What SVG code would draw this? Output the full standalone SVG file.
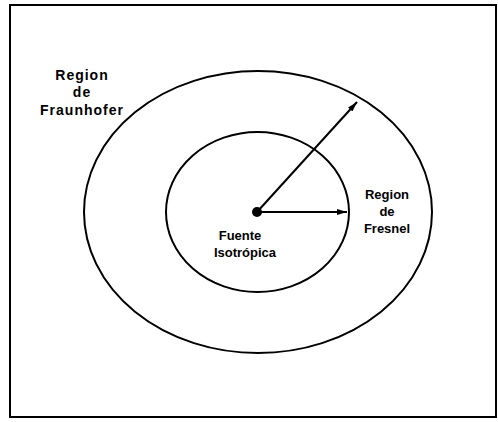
<svg xmlns="http://www.w3.org/2000/svg" width="498" height="422" viewBox="0 0 498 422">
<style>
.ln{fill:none;stroke:#000;stroke-width:2}
.t{font-family:"Liberation Sans",Arial,sans-serif;font-size:14px;font-weight:bold;letter-spacing:1px;text-anchor:middle;fill:#000}
.s{font-family:"Liberation Sans",Arial,sans-serif;font-size:13px;font-weight:bold;text-anchor:middle;fill:#000}
</style>
<defs>
<marker id="ah" viewBox="0 0 10 6" refX="10" refY="3" markerWidth="10" markerHeight="6" markerUnits="userSpaceOnUse" orient="auto">
<path d="M0,0 L10,3 L0,6 Z" fill="#000"/>
</marker>
</defs>
<rect x="0" y="0" width="498" height="422" fill="#fff"/>
<rect x="10" y="5" width="486" height="412" class="ln"/>
<g id="outer">
<ellipse cx="258" cy="212" rx="174" ry="141" class="ln"/>
</g>
<g id="inner">
<ellipse cx="257.5" cy="212" rx="91.5" ry="80" class="ln"/>
</g>
<g id="source">
<circle cx="257" cy="212" r="5" fill="#000"/>
</g>
<g id="connectors">
<line x1="257" y1="212" x2="357" y2="102" class="ln" marker-end="url(#ah)"/>
<line x1="257" y1="212" x2="347" y2="212" class="ln" marker-end="url(#ah)"/>
</g>
<g id="label-fraunhofer">
<text class="t" x="82" y="80">Region</text>
<text class="t" x="82" y="97">de</text>
<text class="t" x="82" y="115">Fraunhofer</text>
</g>
<g id="label-fresnel">
<text class="s" x="387" y="199">Region</text>
<text class="s" x="387" y="216">de</text>
<text class="s" x="387" y="233">Fresnel</text>
</g>
<g id="label-fuente">
<text class="s" x="240" y="240">Fuente</text>
<text class="s" x="245" y="257">Isotrópica</text>
</g>
</svg>
